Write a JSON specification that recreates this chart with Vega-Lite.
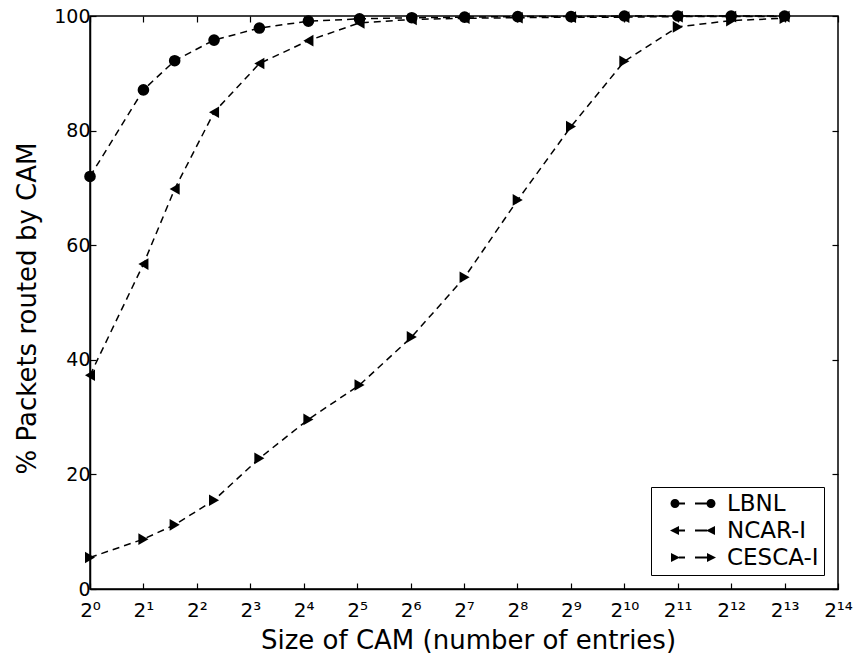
{
  "$schema": "https://vega.github.io/schema/vega-lite/v6.json",
  "autosize": {"type": "none"},
  "padding": {"left": 90, "top": 16, "right": 15, "bottom": 64},
  "width": 748,
  "height": 573,
  "background": "white",
  "config": {
    "font": "DejaVu Sans",
    "view": {"stroke": "black", "strokeWidth": 1.5},
    "axis": {
      "grid": false,
      "domainColor": "black",
      "domainWidth": 1.5,
      "tickColor": "black",
      "tickWidth": 1.2,
      "labelColor": "black",
      "labelFont": "DejaVu Sans",
      "labelFontSize": 19,
      "titleColor": "black",
      "titleFont": "DejaVu Sans",
      "titleFontSize": 26,
      "titleFontWeight": "normal"
    }
  },
  "data": {
    "values": [
      {"size": 1, "pct": 72.0, "series": "LBNL"},
      {"size": 2, "pct": 87.1, "series": "LBNL"},
      {"size": 3, "pct": 92.2, "series": "LBNL"},
      {"size": 5, "pct": 95.8, "series": "LBNL"},
      {"size": 9, "pct": 97.9, "series": "LBNL"},
      {"size": 17, "pct": 99.1, "series": "LBNL"},
      {"size": 33, "pct": 99.5, "series": "LBNL"},
      {"size": 65, "pct": 99.7, "series": "LBNL"},
      {"size": 129, "pct": 99.8, "series": "LBNL"},
      {"size": 257, "pct": 99.9, "series": "LBNL"},
      {"size": 513, "pct": 99.9, "series": "LBNL"},
      {"size": 1025, "pct": 100, "series": "LBNL"},
      {"size": 2049, "pct": 100, "series": "LBNL"},
      {"size": 4097, "pct": 100, "series": "LBNL"},
      {"size": 8193, "pct": 100, "series": "LBNL"},
      {"size": 1, "pct": 37.3, "series": "NCAR-I"},
      {"size": 2, "pct": 56.7, "series": "NCAR-I"},
      {"size": 3, "pct": 69.8, "series": "NCAR-I"},
      {"size": 5, "pct": 83.2, "series": "NCAR-I"},
      {"size": 9, "pct": 91.7, "series": "NCAR-I"},
      {"size": 17, "pct": 95.7, "series": "NCAR-I"},
      {"size": 33, "pct": 98.8, "series": "NCAR-I"},
      {"size": 65, "pct": 99.4, "series": "NCAR-I"},
      {"size": 129, "pct": 99.6, "series": "NCAR-I"},
      {"size": 257, "pct": 99.7, "series": "NCAR-I"},
      {"size": 513, "pct": 99.8, "series": "NCAR-I"},
      {"size": 1025, "pct": 99.8, "series": "NCAR-I"},
      {"size": 2049, "pct": 99.9, "series": "NCAR-I"},
      {"size": 4097, "pct": 99.9, "series": "NCAR-I"},
      {"size": 8193, "pct": 99.9, "series": "NCAR-I"},
      {"size": 1, "pct": 5.5, "series": "CESCA-I"},
      {"size": 2, "pct": 8.7, "series": "CESCA-I"},
      {"size": 3, "pct": 11.2, "series": "CESCA-I"},
      {"size": 5, "pct": 15.5, "series": "CESCA-I"},
      {"size": 9, "pct": 22.8, "series": "CESCA-I"},
      {"size": 17, "pct": 29.6, "series": "CESCA-I"},
      {"size": 33, "pct": 35.6, "series": "CESCA-I"},
      {"size": 65, "pct": 44.0, "series": "CESCA-I"},
      {"size": 129, "pct": 54.4, "series": "CESCA-I"},
      {"size": 257, "pct": 67.9, "series": "CESCA-I"},
      {"size": 513, "pct": 80.7, "series": "CESCA-I"},
      {"size": 1025, "pct": 92.1, "series": "CESCA-I"},
      {"size": 2049, "pct": 98.1, "series": "CESCA-I"},
      {"size": 4097, "pct": 99.2, "series": "CESCA-I"},
      {"size": 8193, "pct": 99.6, "series": "CESCA-I"}
    ]
  },
  "layer": [
    {
      "mark": {"type": "line", "color": "black", "strokeWidth": 1.5, "strokeDash": [7, 5], "clip": false},
      "encoding": {
        "x": {
          "field": "size", "type": "quantitative",
          "scale": {"type": "log", "base": 2, "domain": [1, 16384], "nice": false},
          "axis": {
            "orient": "bottom",
            "values": [1, 2, 4, 8, 16, 32, 64, 128, 256, 512, 1024, 2048, 4096, 8192, 16384],
            "labelExpr": "'2' + ['⁰','¹','²','³','⁴','⁵','⁶','⁷','⁸','⁹','¹⁰','¹¹','¹²','¹³','¹⁴'][round(log(datum.value)/LN2)]",
            "tickSize": -6,
            "labelPadding": 17,
            "labelFontSize": 20,
            "labelFlush": false,
            "labelOverlap": false,
            "labelBound": false,
            "title": "Size of CAM (number of entries)",
            "titleX": 378,
            "titleY": 59,
            "titleAlign": "center",
            "titleBaseline": "alphabetic"
          }
        },
        "y": {
          "field": "pct", "type": "quantitative",
          "scale": {"domain": [0, 100], "nice": false},
          "axis": {
            "orient": "left",
            "values": [0, 20, 40, 60, 80, 100],
            "tickSize": -6,
            "labelPadding": 6,
            "labelFlush": false,
            "labelOverlap": false,
            "title": "% Packets routed by CAM",
            "titleX": -55,
            "titleY": 292,
            "titleAlign": "center",
            "titleBaseline": "alphabetic"
          }
        },
        "detail": {"field": "series"}
      }
    },
    {
      "mark": {"type": "point", "filled": true, "color": "black", "size": 135, "opacity": 1, "clip": false},
      "encoding": {
        "x": {
          "field": "size", "type": "quantitative",
          "axis": {
            "orient": "top",
            "values": [1, 2, 4, 8, 16, 32, 64, 128, 256, 512, 1024, 2048, 4096, 8192, 16384],
            "tickSize": -6,
            "labels": false,
            "domain": false,
            "title": null
          }
        },
        "y": {
          "field": "pct", "type": "quantitative",
          "axis": {
            "orient": "right",
            "values": [0, 20, 40, 60, 80, 100],
            "tickSize": -6,
            "labels": false,
            "domain": false,
            "title": null
          }
        },
        "shape": {
          "field": "series", "type": "nominal",
          "scale": {"domain": ["LBNL", "NCAR-I", "CESCA-I"], "range": ["circle", "triangle-left", "triangle-right"]},
          "legend": null
        }
      }
    },
    {
      "mark": {"type": "point", "filled": true, "color": "black", "size": 400, "opacity": 0, "clip": false},
      "encoding": {
        "x": {"field": "size", "type": "quantitative", "axis": null},
        "y": {"field": "pct", "type": "quantitative", "axis": null},
        "shape": {
          "field": "series", "type": "nominal",
          "scale": {
            "domain": ["LBNL", "NCAR-I", "CESCA-I"],
            "range": [
              "M0.3,0A0.45,0.45 0 1,1 1.2,0A0.45,0.45 0 1,1 0.3,0ZM0.75,-0.1H1.75V0.1H0.75ZM2.75,-0.1H4.35V0.1H2.75ZM3.9,0A0.45,0.45 0 1,1 4.8,0A0.45,0.45 0 1,1 3.9,0Z",
              "M0.25,0L1.15,-0.45L1.15,0.45ZM1.05,-0.1H1.75V0.1H1.05ZM2.75,-0.1H3.95V0.1H2.75ZM3.85,0L4.75,-0.45L4.75,0.45Z",
              "M1.25,0L0.35,0.45L0.35,-0.45ZM1.15,-0.1H1.75V0.1H1.15ZM2.75,-0.1H4.05V0.1H2.75ZM4.85,0L3.95,0.45L3.95,-0.45Z"
            ]
          },
          "legend": {
            "title": null,
            "orient": "bottom-right",
            "offset": 14,
            "strokeColor": "black",
            "fillColor": "white",
            "padding": 5,
            "cornerRadius": 0,
            "labelFont": "DejaVu Sans",
            "labelFontSize": 23,
            "labelColor": "black",
            "symbolSize": 400,
            "symbolOpacity": 1,
            "symbolFillColor": "black",
            "symbolStrokeWidth": 0,
            "labelOffset": 48,
            "rowPadding": 3
          }
        }
      }
    }
  ],
  "resolve": {
    "axis": {"x": "independent", "y": "independent"},
    "scale": {"shape": "independent"}
  }
}
